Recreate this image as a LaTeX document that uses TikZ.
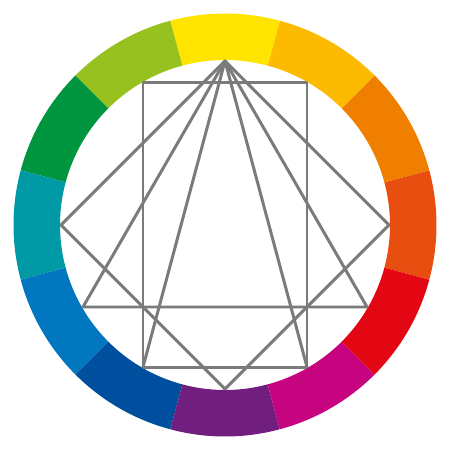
\documentclass[tikz,border=0pt]{standalone}
\usepackage{tikz}
\definecolor{wheelRO}{HTML}{E84E0F}
\definecolor{wheelO}{HTML}{F07F00}
\definecolor{wheelYO}{HTML}{FCBB00}
\definecolor{wheelY}{HTML}{FFE400}
\definecolor{wheelYG}{HTML}{97C11F}
\definecolor{wheelG}{HTML}{00963F}
\definecolor{wheelBG}{HTML}{009AA6}
\definecolor{wheelB}{HTML}{0077BF}
\definecolor{wheelBV}{HTML}{004F9E}
\definecolor{wheelV}{HTML}{701F7E}
\definecolor{wheelRV}{HTML}{C6047F}
\definecolor{wheelR}{HTML}{E30613}
\definecolor{schemegray}{HTML}{7B7B7B}

\begin{document}
\begin{tikzpicture}
    \useasboundingbox (-4.5,-4.5) rectangle (4.5,4.5);
    \foreach \col [count=\i from 0, evaluate=\i as \a using \i*30-15,
      evaluate=\i as \b using \i*30+15] in
      {wheelRO,wheelO,wheelYO,wheelY,wheelYG,wheelG,wheelBG,wheelB,wheelBV,wheelV,wheelRV,wheelR}
      \fill[\col] (\a:4.23) arc (\a:\b:4.23) -- (\b:3.3) arc (\b:\a:3.3) -- cycle;

    \foreach \i in {0,...,11}
      \coordinate (p\i) at (\i*30:3.28);

    \begin{scope}[draw=schemegray, line width=1.7pt, line join=round]
      \draw (p0) -- (p3) -- (p6) -- (p9) -- cycle;
      \draw (p3) -- (p7) -- (p11) -- cycle;
      \draw (p2) -- (p4) -- (p8) -- (p10) -- cycle;
      \draw (p8) -- (p3) -- (p10);
    \end{scope}
  \end{tikzpicture}
\end{document}
